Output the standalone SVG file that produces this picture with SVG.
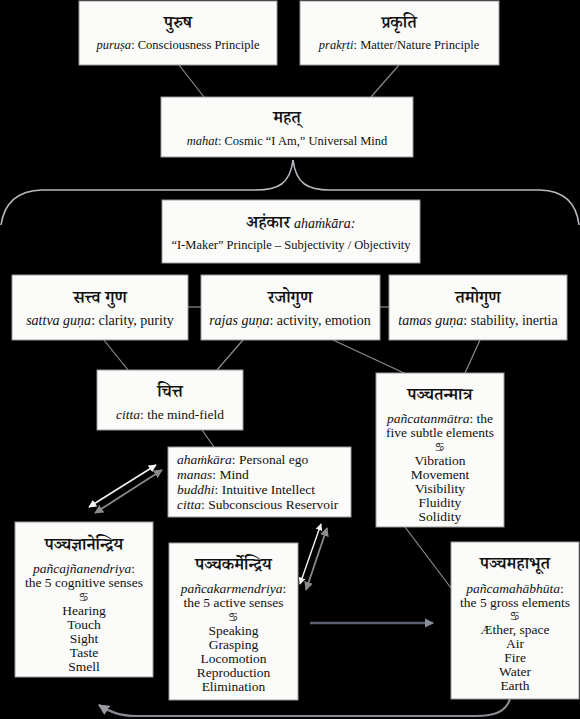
<svg xmlns="http://www.w3.org/2000/svg" width="580" height="719" viewBox="0 0 580 719">
<defs>
<style>
.box{fill:#fbfbfa;stroke:#9a9a9a;stroke-width:1}
.t{font-family:"Liberation Serif","Times New Roman",serif;fill:#111;text-anchor:middle}
.l{font-family:"Liberation Serif","Times New Roman",serif;fill:#111;font-size:13.5px}
.dev{font-family:"Noto Serif Devanagari","Noto Sans Devanagari","Lohit Devanagari","Mangal","FreeSerif","Noto Sans",serif;fill:#111;text-anchor:middle;font-size:17px;font-weight:600}
.s1{font-size:12.5px}
.s2{font-size:14px}
.s3{font-size:13.5px}
.orn{font-family:"DejaVu Sans","Noto Sans Symbols",sans-serif;font-size:12px;fill:#222;text-anchor:middle}
.it{font-style:italic}
.ln{stroke:#8c8c8c;stroke-width:1.2;fill:none}
.brace{stroke:#b8b8c0;stroke-width:1.6;fill:none}
</style>
<marker id="ahW" viewBox="0 0 10 10" refX="9" refY="5" markerWidth="5" markerHeight="5" orient="auto-start-reverse"><path d="M0,0 L10,5 L0,10 z" fill="#f2f2f2"/></marker>
<marker id="ahG" viewBox="0 0 10 10" refX="9" refY="5" markerWidth="5" markerHeight="5" orient="auto-start-reverse"><path d="M0,0 L10,5 L0,10 z" fill="#8a8a8a"/></marker>
<marker id="ahB" viewBox="0 0 10 10" refX="9" refY="5" markerWidth="3.5" markerHeight="3.5" orient="auto"><path d="M0,0 L10,5 L0,10 z" fill="#8a8d9a"/></marker>
<marker id="ahC" viewBox="0 0 10 10" refX="9" refY="5" markerWidth="5" markerHeight="5" orient="auto"><path d="M0,0 L10,5 L0,10 z" fill="#9a9aa2"/></marker>
</defs>
<rect width="580" height="719" fill="#000"/>

<g id="connectors">
<line class="ln" x1="179" y1="65" x2="204" y2="97"/>
<line class="ln" x1="399" y1="65" x2="371" y2="97"/>
<path class="brace" d="M293,160 C290,184 278,190 256,190 L42,190 Q6,191 1,225"/>
<path class="brace" d="M293,160 C296,184 308,190 330,190 L540,190 Q575,191 579,225"/>
<line class="ln" x1="188" y1="307" x2="201" y2="307"/>
<line class="ln" x1="380" y1="307" x2="389" y2="307"/>
<line class="ln" x1="104" y1="340" x2="128" y2="370"/>
<line class="ln" x1="243" y1="340" x2="217" y2="370"/>
<line class="ln" x1="333" y1="340" x2="404" y2="373"/>
<line class="ln" x1="480" y1="340" x2="465" y2="373"/>
<line class="ln" x1="202" y1="430" x2="214" y2="447"/>
<line x1="89" y1="507" x2="156" y2="465" stroke="#f2f2f2" stroke-width="1.6" marker-start="url(#ahW)" marker-end="url(#ahW)"/>
<line x1="95" y1="513" x2="162" y2="470" stroke="#8a8a8a" stroke-width="1.8" marker-start="url(#ahG)" marker-end="url(#ahG)"/>
<line x1="300" y1="584" x2="321" y2="524" stroke="#f2f2f2" stroke-width="1.4" marker-start="url(#ahW)" marker-end="url(#ahW)"/>
<line x1="306" y1="590" x2="327" y2="528" stroke="#8a8a8a" stroke-width="1.8" marker-start="url(#ahG)" marker-end="url(#ahG)"/>
<line class="ln" x1="405" y1="527" x2="451" y2="588"/>
<line x1="310" y1="623" x2="433" y2="623" stroke="#5d6072" stroke-width="2.6" marker-end="url(#ahB)"/>
<path d="M510,699 C506,711 496,716 476,716 L136,716 C120,716 110,712 99,705" stroke="#8a8a92" stroke-width="2.2" fill="none" marker-end="url(#ahC)"/>
</g>

<g id="purusa">
<rect class="box" x="79" y="1" width="198" height="64"/>
<text class="dev" x="178" y="28">पुरुष</text>
<text class="t s1" x="178" y="49"><tspan class="it">puruṣa</tspan>: Consciousness Principle</text>
</g>

<g id="prakrti">
<rect class="box" x="300" y="1" width="199" height="64"/>
<text class="dev" x="399" y="28">प्रकृति</text>
<text class="t s1" x="399" y="49"><tspan class="it">prakṛti</tspan>: Matter/Nature Principle</text>
</g>

<g id="mahat">
<rect class="box" x="161" y="97" width="252" height="60"/>
<text class="dev" x="287" y="123">महत्</text>
<text class="t s1" x="287" y="145"><tspan class="it">mahat</tspan>: Cosmic “I Am,” Universal Mind</text>
</g>

<g id="ahamkara">
<rect class="box" x="162" y="200" width="258" height="63"/>
<text class="dev" x="290" y="228" style="text-anchor:end">अहंकार</text>
<text class="t s2 it" x="294" y="228" style="text-anchor:start">ahaṁkāra:</text>
<text class="t s1" x="291" y="249">“I-Maker” Principle – Subjectivity / Objectivity</text>
</g>

<g id="sattva">
<rect class="box" x="12" y="275" width="176" height="65"/>
<text class="dev" x="100" y="303">सत्त्व गुण</text>
<text class="t s2" x="100" y="325"><tspan class="it">sattva guṇa</tspan>: clarity, purity</text>
</g>

<g id="rajas">
<rect class="box" x="201" y="275" width="179" height="65"/>
<text class="dev" x="290" y="303">रजोगुण</text>
<text class="t s2" x="290" y="325"><tspan class="it">rajas guṇa</tspan>: activity, emotion</text>
</g>

<g id="tamas">
<rect class="box" x="389" y="275" width="178" height="65"/>
<text class="dev" x="478" y="303">तमोगुण</text>
<text class="t s2" x="478" y="325"><tspan class="it">tamas guṇa</tspan>: stability, inertia</text>
</g>

<g id="citta">
<rect class="box" x="97" y="370" width="146" height="60"/>
<text class="dev" x="170" y="397">चित्त</text>
<text class="t s3" x="170" y="419"><tspan class="it">citta</tspan>: the mind-field</text>
</g>

<g id="mind">
<rect class="box" x="168" y="447" width="183" height="70"/>
<text class="l" x="177" y="464"><tspan class="it">ahaṁkāra</tspan>:  Personal ego</text>
<text class="l" x="177" y="479"><tspan class="it">manas</tspan>:  Mind</text>
<text class="l" x="177" y="494"><tspan class="it">buddhi</tspan>: Intuitive Intellect</text>
<text class="l" x="177" y="509"><tspan class="it">citta</tspan>:  Subconscious Reservoir</text>
</g>

<g id="tanmatra">
<rect class="box" x="376" y="373" width="128" height="154"/>
<text class="dev" x="440" y="400">पञ्चतन्मात्र</text>
<text class="t s3" x="440" y="423"><tspan class="it">pañcatanmātra</tspan>: the</text>
<text class="t s3" x="440" y="437">five subtle elements</text>
<text class="orn" x="440" y="451">♋</text>
<text class="t s3" x="440" y="465">Vibration</text>
<text class="t s3" x="440" y="479">Movement</text>
<text class="t s3" x="440" y="493">Visibility</text>
<text class="t s3" x="440" y="507">Fluidity</text>
<text class="t s3" x="440" y="521">Solidity</text>
</g>

<g id="jnanendriya">
<rect class="box" x="15" y="522" width="138" height="155"/>
<text class="dev" x="84" y="550">पञ्चज्ञानेन्द्रिय</text>
<text class="t s3" x="84" y="573"><tspan class="it">pañcajñanendriya</tspan>:</text>
<text class="t s3" x="84" y="587">the 5 cognitive senses</text>
<text class="orn" x="84" y="601">♋</text>
<text class="t s3" x="84" y="615">Hearing</text>
<text class="t s3" x="84" y="629">Touch</text>
<text class="t s3" x="84" y="643">Sight</text>
<text class="t s3" x="84" y="657">Taste</text>
<text class="t s3" x="84" y="671">Smell</text>
</g>

<g id="karmendriya">
<rect class="box" x="169" y="543" width="129" height="157"/>
<text class="dev" x="233.5" y="570">पञ्चकर्मेन्द्रिय</text>
<text class="t s3" x="233.5" y="593"><tspan class="it">pañcakarmendriya</tspan>:</text>
<text class="t s3" x="233.5" y="607">the 5 active senses</text>
<text class="orn" x="233.5" y="621">♋</text>
<text class="t s3" x="233.5" y="635">Speaking</text>
<text class="t s3" x="233.5" y="649">Grasping</text>
<text class="t s3" x="233.5" y="663">Locomotion</text>
<text class="t s3" x="233.5" y="677">Reproduction</text>
<text class="t s3" x="233.5" y="691">Elimination</text>
</g>

<g id="mahabhuta">
<rect class="box" x="451" y="542" width="128" height="157"/>
<text class="dev" x="515" y="569">पञ्चमहाभूत</text>
<text class="t s3" x="515" y="593"><tspan class="it">pañcamahābhūta</tspan>:</text>
<text class="t s3" x="515" y="607">the 5 gross elements</text>
<text class="orn" x="515" y="620">♋</text>
<text class="t s3" x="515" y="634">Æther, space</text>
<text class="t s3" x="515" y="648">Air</text>
<text class="t s3" x="515" y="662">Fire</text>
<text class="t s3" x="515" y="676">Water</text>
<text class="t s3" x="515" y="690">Earth</text>
</g>
</svg>
